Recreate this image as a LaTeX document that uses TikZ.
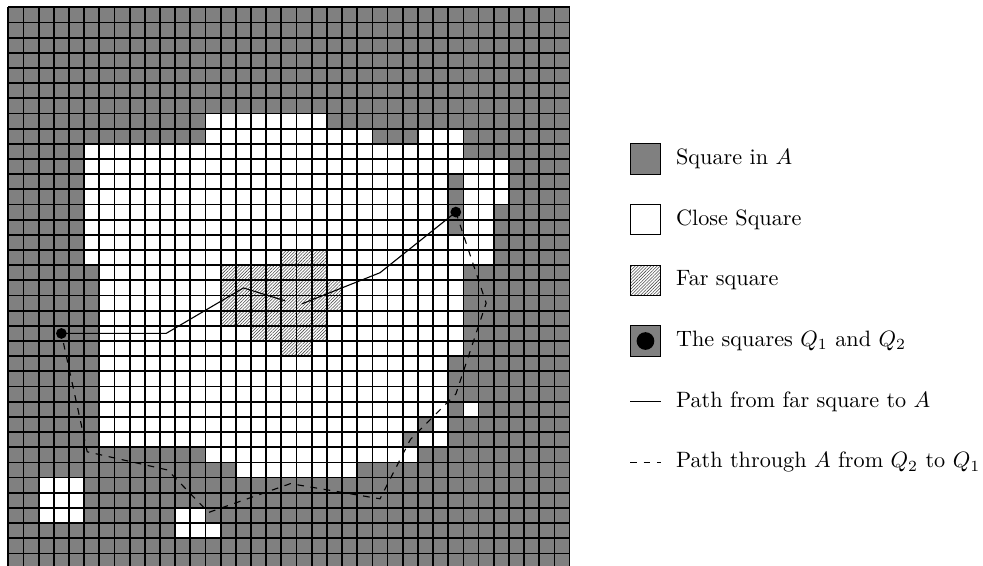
\documentclass[tikz,border=0pt]{standalone}
\usepackage{tikz}
\usetikzlibrary{patterns.meta}
\definecolor{ashen}{HTML}{808080}
\definecolor{hatchink}{HTML}{4A4A4A}

\begin{document}
\begin{tikzpicture}[x=0.24cm, y=0.24cm,
      sqa/.style={fill=ashen},
      closesq/.style={fill=white},
      farsq/.style={pattern={Lines[angle=45, distance=1pt, line width=0.25pt]}, pattern color=hatchink},
      gridline/.style={line width=0.8pt, step=1},
      legbox/.style={draw, line width=0.5pt},
      farpath/.style={line width=0.5pt},
      apath/.style={line width=0.5pt, dashed},
      qdot/.style={circle, fill=black, inner sep=0pt, minimum size=1.7mm},
      lbl/.style={anchor=west}]
    \useasboundingbox (-0.547,0.236) rectangle (64.25,37.48);
    \fill[sqa] (0,0) rectangle (37,37);
    \foreach \r/\a/\b in {7/13/20, 8/13/23, 8/27/29, 9/5/29, 10/5/32, 11/5/28, 11/30/32, 12/5/28, 12/30/32,
        13/5/28, 13/30/31, 14/5/28, 14/30/31, 15/5/31, 16/5/31, 17/6/29, 18/6/29, 19/6/29, 20/6/29,
        21/6/29, 22/6/29, 23/6/28, 24/6/28, 25/6/28, 26/6/28, 26/30/30, 27/6/26, 27/28/28, 28/6/25,
        28/27/28, 29/13/26, 30/15/22, 31/2/4, 32/2/4, 33/2/4, 33/11/12, 34/11/13}
      \fill[closesq] (\a,36-\r) rectangle (\b+1,37-\r);
    \foreach \r/\a/\b in {16/18/20, 17/14/20, 18/14/21, 19/14/21, 20/14/20, 21/16/20, 22/18/19}
      \fill[farsq] (\a,36-\r) rectangle (\b+1,37-\r);
    \draw[gridline] (0,0) grid (37,37);
    \coordinate (q1) at (3.5,15.5);
    \coordinate (q2) at (29.5,23.5);
    \coordinate (f1) at (18.25,17.65);
    \coordinate (f2) at (19.35,17.45);
    \draw[farpath] (q1) -- (10.4,15.5) -- (15.5,18.5) -- (f1);
    \draw[farpath] (f2) -- (24.5,19.5) -- (q2);
    \draw[apath] (q2) -- (31.5,17.5) -- (29.5,11.5) -- (26.5,8.5) -- (24.5,4.6) -- (18.6,5.6)
      -- (13.2,3.7) -- (10.5,6.5) -- (5.2,7.7) -- (q1);
    \node[qdot] (dq1) at (q1) {};
    \node[qdot] (dq2) at (q2) {};
    \draw[legbox, sqa] (41,26) rectangle (43,28);
    \node[lbl] (la) at (43.5,27) {Square in $A$};
    \draw[legbox, closesq] (41,22) rectangle (43,24);
    \node[lbl] (lc) at (43.5,23) {Close Square};
    \fill[closesq] (41,18) rectangle (43,20);
    \draw[legbox, farsq] (41,18) rectangle (43,20);
    \node[lbl] (lf) at (43.5,19) {Far square};
    \draw[legbox, sqa] (41,14) rectangle (43,16);
    \node[qdot, minimum size=2.8mm] (lq) at (42,15) {};
    \node[lbl] (ls) at (43.5,15) {The squares $Q_1$ and $Q_2$};
    \draw[farpath] (41,11) -- (43,11);
    \node[lbl] (lp) at (43.5,11) {Path from far square to $A$};
    \draw[apath] (41,7) -- (43,7);
    \node[lbl] (ld) at (43.5,7) {Path through $A$ from $Q_2$ to $Q_1$};
  \end{tikzpicture}
\end{document}
